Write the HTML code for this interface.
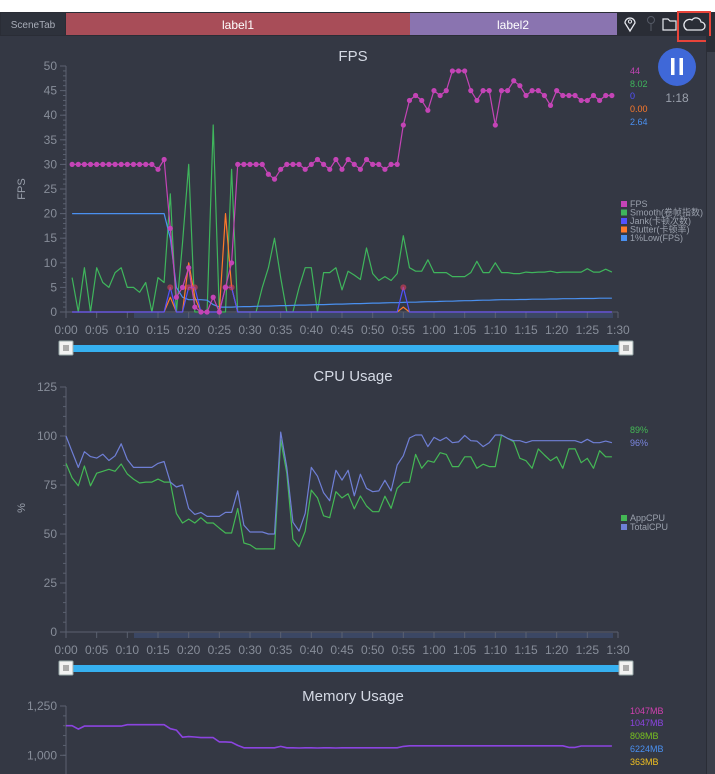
<!DOCTYPE html>
<html><head><meta charset="utf-8"><style>
html,body{margin:0;padding:0;width:715px;height:774px;overflow:hidden;background:#fff}
svg{display:block;font-family:"Liberation Sans","Noto Sans CJK SC",sans-serif}
</style></head><body>
<svg id="s" width="715" height="774" xmlns="http://www.w3.org/2000/svg">
<rect x="0" y="12" width="715" height="762" fill="#343844"/>
<rect x="0" y="12" width="715" height="24" fill="#2a2d36"/>
<g><rect x="1" y="13" width="64" height="22" fill="#2e323c"/><text x="33" y="28" font-size="10" fill="#a8adb8" text-anchor="middle">SceneTab</text></g>
<g><rect x="66" y="13" width="344" height="22" fill="#a84d58"/><text x="238" y="29" font-size="12" fill="#fff" text-anchor="middle">label1</text></g>
<g><rect x="410" y="13" width="207" height="22" fill="#8a74b0"/><text x="513" y="29" font-size="12" fill="#fff" text-anchor="middle">label2</text></g>
<g><path d="M630 31 L625 23 A5 5 0 1 1 635 23 Z" fill="none" stroke="#e6e8ee" stroke-width="1.3"/><circle cx="630" cy="21.5" r="1.6" fill="none" stroke="#e6e8ee"/></g>
<g><circle cx="651" cy="20" r="3.5" fill="none" stroke="#555a66"/><line x1="651" y1="24" x2="651" y2="31" stroke="#555a66"/></g>
<g><path d="M663 19 h5 l2 2 h6 v9 h-13 z" fill="none" stroke="#e6e8ee" stroke-width="1.2"/></g>
<g><rect x="678" y="12" width="32" height="29" fill="none" stroke="#e8443a" stroke-width="2"/><path d="M687 30 h14 a4 4 0 0 0 0-8 a5 5 0 0 0-9-2 a4 4 0 0 0-5 10z" fill="none" stroke="#e6e8ee" stroke-width="1.3"/></g>
<rect x="706" y="36" width="9" height="738" fill="#2a2d36"/>
<rect x="707" y="52" width="8" height="722" fill="#3b3f4a"/>
<g><circle cx="677" cy="67" r="19" fill="#3f68d8"/><rect x="671" y="58" width="3.5" height="17" fill="#fff"/><rect x="679.5" y="58" width="3.5" height="17" fill="#fff"/></g>
<text x="677" y="102" font-size="12" fill="#9aa0ac" text-anchor="middle">1:18</text>
<g id="charts"></g>
</svg>
<script>
// ---- FPS data (t = 1..89 s) ----
const fpsValues=[30,30,30,30,30,30,30,30,30,30,30,30,30,30,29,31,17,3,5,9,1,0,0,3,0,5,10,30,30,30,30,30,28,27,29,30,30,30,29,30,31,30,29,31,29,31,30,29,31,30,30,29,30,30,38,43,44,43,41,45,44,45,49,49,49,45,43,45,45,38,45,45,47,46,44,45,45,44,42,45,44,44,44,43,43,44,43,44,44];
const smoothValues=[7,0,9,0,9,6,5,8,9,5,5,4,6,0,7,6,24,0,14,30,0,0,0,38,0,0,29,0,0,0,0,5,9,15,7,0,0,5,9,9,0,8,8,9,4.5,8.3,7.5,6.6,13,7.8,6.4,7.2,6.4,7.8,15.5,9,8.3,8.3,10.6,8,8,8,7.2,7.2,7.2,8,10.3,8,8,10,8,8,7.8,7.8,8.1,8,8.1,8.1,8.3,8,8.1,8.1,8.1,8.1,8.8,8.1,8.1,8.7,8.1];
const jankValues=[0,0,0,0,0,0,0,0,0,0,0,0,0,0,0,0,5,0,0,5,5,0,0,0,0,5,5,0,0,0,0,0,0,0,0,0,0,0,0,0,0,0,0,0,0,0,0,0,0,0,0,0,0,0,5,0,0,0,0,0,0,0,0,0,0,0,0,0,0,0,0,0,0,0,0,0,0,0,0,0,0,0,0,0,0,0,0,0,0];
const stutterValues=[0,0,0,0,0,0,0,0,0,0,0,0,0,0,0,0,3,0,0,10,3,0,0,0,0,20,5,0,0,0,0,0,0,0,0,0,0,0,0,0,0,0,0,0,0,0,0,0,0,0,0,0,0,0,1,0,0,0,0,0,0,0,0,0,0,0,0,0,0,0,0,0,0,0,0,0,0,0,0,0,0,0,0,0,0,0,0,0,0];
const lowValues=[20,20,20,20,20,20,20,20,20,20,20,20,20,20,20,20,15,5,3,2.5,2.5,2.5,2.4,1.5,1,1,1,1.05,1.1,1.1,1.15,1.2,1.2,1.25,1.3,1.3,1.35,1.4,1.4,1.45,1.5,1.5,1.55,1.6,1.6,1.65,1.7,1.7,1.75,1.8,1.8,1.85,1.9,1.9,1.95,2,2,2.05,2.1,2.1,2.15,2.2,2.2,2.25,2.3,2.3,2.35,2.4,2.4,2.45,2.5,2.5,2.5,2.55,2.55,2.6,2.6,2.6,2.65,2.65,2.7,2.7,2.7,2.75,2.75,2.75,2.8,2.8,2.8];
const fpsTicks=[0,5,10,15,20,25,30,35,40,45,50];
// ---- CPU data (t = 0..89 s) ----
const totalCpu=[100,92,84,92,89.5,88.7,90.7,87.5,89.9,96,88,84,84,84,84,86,87,76.5,74,75,63,60,61,59,59,59,61,61,72,54.5,51,51,51,50,50,102,84,56,51.5,60.5,84,79.5,71,67,82.5,77.5,82.5,69.5,80.5,73.3,71.6,72,77.4,72,85.2,89.9,99,100.5,100.5,94.6,99.3,97.6,99.3,96.6,97,100.3,97.6,97.4,94.6,96.6,100.5,100.5,98.8,97.6,97.6,96.6,97.6,97.6,97.6,97.6,97.6,97.6,97.6,97.6,96.6,98.3,96.6,96.6,97.4,96.6];
const appCpu=[86,78.6,74.6,84.7,74.6,81,82,83,82,85.7,80.6,78,76,76.5,76.5,78,76.5,76.5,60.5,55.6,57.6,55.6,58.3,55.6,55.6,53,50.5,50.5,63,45.4,44.5,42.4,42.4,42.4,42.4,98,81,47.4,43.5,51.5,72.4,68.4,59.3,58.3,71.6,68.4,70.5,62.8,69.4,64.3,61.4,61.4,69.3,63.1,73.3,76.4,76.4,90.6,83.5,87.4,86.6,91.5,90.6,84.4,84.4,89.4,89.4,83.5,85.6,84.4,84.4,100.5,98.8,97.1,88.6,87.4,83.5,93.4,90.3,87.4,89.4,83.5,93.4,93.4,86.4,88.6,83.5,92.5,89.4,89.4];
const cpuTicks=[0,25,50,75,100,125];
// ---- Memory data (t = 0..89 s) ----
const memValues=[1150,1150,1133,1148,1148,1148,1148,1148,1148,1148,1155,1155,1155,1155,1155,1155,1155,1135,1128,1092,1095,1093,1090,1090,1090,1068,1068,1066,1050,1038,1038,1038,1038,1038,1038,1045,1038,1038,1037,1038,1038,1037,1038,1038,1037,1038,1038,1038,1038,1038,1038,1038,1038,1038,1038,1045,1048,1048,1048,1048,1048,1048,1048,1048,1048,1048,1048,1048,1048,1048,1048,1048,1048,1048,1048,1048,1048,1048,1048,1048,1048,1048,1040,1040,1047,1047,1047,1047,1047,1047];
const memTicks=[1000,1250];
const timeLabels=["0:00","0:05","0:10","0:15","0:20","0:25","0:30","0:35","0:40","0:45","0:50","0:55","1:00","1:05","1:10","1:15","1:20","1:25","1:30"];

const NS="http://www.w3.org/2000/svg";
const root=document.getElementById('charts');
function mk(tag,attrs,parent){const e=document.createElementNS(NS,tag);for(const k in attrs)e.setAttribute(k,attrs[k]);(parent||root).appendChild(e);return e;}
const X0=66,X1=618,TMAX=90;
function xs(t){return X0+(X1-X0)*t/TMAX;}
function ysF(v,lo,hi,top,bot){return bot-(v-lo)/(hi-lo)*(bot-top);}

function axes(name,top,bot,lo,hi,ticks,minorStep,fmt,showX,lineBot){
  const g=mk('g',{});
  
  
  mk('line',{x1:X0,y1:top,x2:X0,y2:lineBot||bot,stroke:'#5b6170'},g);
  for(let v=lo;v<=hi+1e-6;v+=minorStep){const y=ysF(v,lo,hi,top,bot);mk('line',{x1:X0-3,y1:y,x2:X0,y2:y,stroke:'#5b6170'},g);}
  ticks.forEach(v=>{const y=ysF(v,lo,hi,top,bot);mk('line',{x1:X0-6,y1:y,x2:X0,y2:y,stroke:'#5b6170'},g);
    const t=mk('text',{x:X0-9,y:y+4,'font-size':12,fill:'#878d99','text-anchor':'end'},g);t.textContent=fmt(v);});
  if(showX){
    const gx=mk('g',{});
    
    
    mk('rect',{x:134,y:bot+1,width:479,height:5,fill:'#3b4764'},gx);
    mk('line',{x1:X0,y1:bot,x2:X1,y2:bot,stroke:'#5b6170'},gx);
    timeLabels.forEach((l,i)=>{const x=xs(i*5);mk('line',{x1:x,y1:bot,x2:x,y2:bot+6,stroke:'#5b6170'},gx);
      const t=mk('text',{x:x,y:bot+22,'font-size':12,fill:'#878d99','text-anchor':'middle'},gx);t.textContent=l;});
    const s=mk('g',{});
    
    
    const sy=bot+36;
    mk('rect',{x:70,y:sy-3,width:556,height:7,fill:'#36b0f0'},s);
    [66,626].forEach(hx=>{mk('rect',{x:hx-7,y:sy-7,width:14,height:14,fill:'#f2f2f2',stroke:'#9aa',rx:1},s);
      for(let k=-2;k<=2;k+=2)mk('line',{x1:hx+k,y1:sy-3,x2:hx+k,y2:sy+3,stroke:'#666'},s);});
  }
}
function title(txt,y,name){const t=mk('text',{x:353,y:y,'font-size':15,fill:'#d4d9e4','text-anchor':'middle'});t.textContent=txt;
  }
function ytitle(txt,y,name){const t=mk('text',{x:25,y:y,'font-size':11,fill:'#9aa0ac','text-anchor':'middle',transform:`rotate(-90 25 ${y})`});t.textContent=txt;
  }
function series(vals,t0,lo,hi,top,bot,color,name,dots,w){
  const pts=vals.map((v,i)=>xs(t0+i).toFixed(1)+','+ysF(v,lo,hi,top,bot).toFixed(1)).join(' ');
  const p=mk('polyline',{points:pts,fill:'none',stroke:color,'stroke-width':w||1.2,'stroke-linejoin':'round'});
  
  
  if(dots){vals.forEach((v,i)=>{const c=mk('circle',{cx:xs(t0+i),cy:ysF(v,lo,hi,top,bot),r:2.6,fill:color});
    
    });}
}
function label(txt,x,y,color,name,size){const t=mk('text',{x:x,y:y,'font-size':size||9,fill:color});t.textContent=txt;
  }
function legend(items,x,y0,dy,name){const g=mk('g',{});
  items.forEach((it,i)=>{const y=y0+i*dy;mk('rect',{x:x,y:y-6,width:6,height:6,fill:it[1]},g);
    const t=mk('text',{x:x+9,y:y,'font-size':9,fill:'#9aa0ac'},g);t.textContent=it[0];});}

// FPS chart
const FT=66,FB=312;
title('FPS',61,'fps-title');
ytitle('FPS',189,'fps-y-axis-title');
axes('fps',FT,FB,0,50,fpsTicks,1,v=>String(v),true);
series(smoothValues,1,0,50,FT,FB,'#3fb55c','smooth-line',false);
series(lowValues,1,0,50,FT,FB,'#4a90f0','one-percent-low-line',false);
series(stutterValues,1,0,50,FT,FB,'#ff7a2a','stutter-line',false);
series(jankValues,1,0,50,FT,FB,'#5252ff','jank-line',false);
jankValues.forEach((v,i)=>{if(v>0){const c=mk('circle',{cx:xs(1+i),cy:ysF(v,0,50,FT,FB),r:3,fill:'#e0405a','fill-opacity':0.6});
  }});
series(fpsValues,1,0,50,FT,FB,'#c444b6','fps-line',true);
label('44',630,74,'#c444b6','fps-current-value');
label('8.02',630,87,'#3fb55c','smooth-current-value');
label('0',630,99,'#5252ff','jank-current-value');
label('0.00',630,112,'#ff7a2a','stutter-current-value');
label('2.64',630,125,'#4a90f0','low-current-value');
legend([['FPS','#c444b6'],['Smooth(卷帧指数)','#3fb55c'],['Jank(卡顿次数)','#5252ff'],['Stutter(卡顿率)','#ff7a2a'],['1%Low(FPS)','#4a90f0']],621,207,8.5,'fps-legend');

// CPU chart
const CT=387,CB=632;
title('CPU Usage',381,'cpu-title');
ytitle('%',508,'cpu-y-axis-title');
axes('cpu',CT,CB,0,125,cpuTicks,5,v=>String(v),true);
series(appCpu,0,0,125,CT,CB,'#44b855','app-cpu-line',false);
series(totalCpu,0,0,125,CT,CB,'#6f7fd6','total-cpu-line',false);
label('89%',630,433,'#44b855','app-cpu-current-value');
label('96%',630,446,'#7b86e0','total-cpu-current-value');
legend([['AppCPU','#44b855'],['TotalCPU','#6f7fd6']],621,521,9,'cpu-legend');

// Memory chart
const MT=706,MB=755.3;
title('Memory Usage',701,'memory-title');
axes('memory',MT,MB,1000,1250,memTicks,50,v=>v.toLocaleString('en-US'),false,774);
series(memValues,0,1000,1250,MT,MB,'#8b44e0','memory-line',false,1.6);
label('1047MB',630,714,'#d040b0','pss-current-value');
label('1047MB',630,726,'#8b44e0','memory-current-value');
label('808MB',630,739,'#78c020','native-current-value');
label('6224MB',630,752,'#4a90f0','virtual-current-value');
label('363MB',630,765,'#f0c020','gpu-current-value');
</script>
</body></html>
